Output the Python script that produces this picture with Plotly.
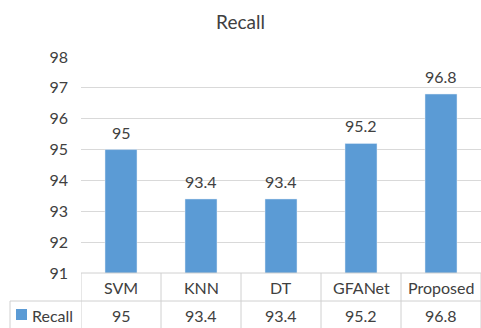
import plotly.graph_objects as go

categories = ["SVM", "KNN", "DT", "GFANet", "Proposed"]
recall = [95, 93.4, 93.4, 95.2, 96.8]
series_name = "Recall"
y_ticks = [91, 92, 93, 94, 95, 96, 97, 98]

BAR = "#5B9BD5"
TXT = "#404040"
GRID = "#D9D9D9"
LINE = "#D0D0D0"
FONT = "Lato, Noto Sans, sans-serif"
FS = 16

W, H = 481, 328
L, R, T, B = 81, 0, 57, 55
ph = H - T - B

def py(pix):
    return (H - B - pix) / ph

def px(pix):
    return (pix - L) / (W - L - R)

fig = go.Figure(go.Bar(
    x=categories, y=recall, marker_color=BAR, width=0.4,
    cliponaxis=True, name=series_name,
))

shapes = []
n = len(categories)
shapes.append(dict(type="line", xref="paper", yref="paper", x0=0, x1=1, y0=0, y1=0,
                   line=dict(color=LINE, width=1)))
shapes.append(dict(type="line", xref="paper", yref="paper", x0=px(10), x1=1, y0=py(301), y1=py(301),
                   line=dict(color=LINE, width=1)))
shapes.append(dict(type="line", xref="paper", yref="paper", x0=px(10), x1=px(10), y0=py(301), y1=py(328),
                   line=dict(color=LINE, width=1)))
for i in range(n + 1):
    shapes.append(dict(type="line", xref="x", yref="paper", x0=i - 0.5, x1=i - 0.5, y0=0, y1=py(328),
                       line=dict(color=LINE, width=1)))
shapes.append(dict(type="rect", xref="paper", yref="paper", x0=px(16), x1=px(27), y0=py(320), y1=py(309),
                   fillcolor=BAR, line=dict(width=0)))

annotations = []
for i, (c, v) in enumerate(zip(categories, recall)):
    # data label above bar
    annotations.append(dict(x=c, y=v, xref="x", yref="y", text=f"{v:g}", showarrow=False,
                            yanchor="bottom", yshift=6, font=dict(size=FS, color=TXT, family=FONT)))
    annotations.append(dict(x=i, y=py(287), xref="x", yref="paper", text=c, showarrow=False,
                            yanchor="middle", font=dict(size=FS, color=TXT, family=FONT)))
    annotations.append(dict(x=i, y=py(315), xref="x", yref="paper", text=f"{v:g}", showarrow=False,
                            yanchor="middle", font=dict(size=FS, color=TXT, family=FONT)))
annotations.append(dict(x=px(30), y=py(315), xref="paper", yref="paper", text=series_name, showarrow=False,
                        xanchor="left", yanchor="middle", font=dict(size=FS, color=TXT, family=FONT)))

fig.update_layout(
    width=W, height=H,
    margin=dict(l=L, r=R, t=T, b=B),
    paper_bgcolor="white", plot_bgcolor="white",
    title=dict(text="Recall", x=0.5, xref="container", xanchor="center",
               y=1 - 22 / H, yref="container", yanchor="middle",
               font=dict(size=19, color=TXT, family=FONT)),
    showlegend=False,
    shapes=shapes, annotations=annotations,
    bargap=0.6,
)
fig.update_yaxes(range=[91, 98], tickvals=y_ticks, showgrid=True, gridcolor=GRID, gridwidth=1,
                 zeroline=False, showline=False, ticks="",
                 tickfont=dict(size=FS, color=TXT, family=FONT), ticklabelstandoff=12)
fig.update_xaxes(showticklabels=False, showgrid=False, showline=False, ticks="", range=[-0.5, n - 0.5])

fig.write_html("out.html", config={"displayModeBar": False, "staticPlot": True},
               post_script="document.body.style.margin='0';document.body.style.overflow='hidden';")
